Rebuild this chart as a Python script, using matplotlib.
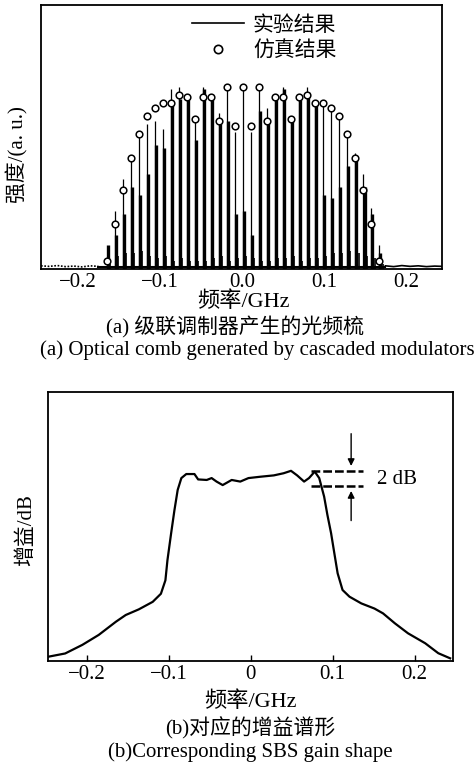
import matplotlib
matplotlib.use("Agg")
import matplotlib.pyplot as plt
from matplotlib.lines import Line2D

plt.rcParams['font.family'] = ['Liberation Serif', 'Noto Sans CJK SC']
plt.rcParams['axes.unicode_minus'] = True

# ---- (a) optical comb ----
comb_freq = [-0.165, -0.1552, -0.1454, -0.1357, -0.1259, -0.1161, -0.1063, -0.0965,
             -0.0868, -0.0770, -0.0672, -0.0574, -0.0476, -0.0379, -0.0281, -0.0183,
             -0.0085, 0.0013, 0.0111, 0.0209, 0.0306, 0.0404, 0.0502, 0.0600,
             0.0697, 0.0795, 0.0893, 0.0991, 0.1088, 0.1186, 0.1284, 0.1382,
             0.1480, 0.1577, 0.1675]
exp_peak = [0.00, 0.22, 0.34, 0.43, 0.51, 0.55, 0.56, 0.53, 0.68, 0.69, 0.64, 0.58,
            0.69, 0.65, 0.59, 0.68, 0.52, 0.69, 0.52, 0.69, 0.61, 0.65, 0.69, 0.58,
            0.65, 0.69, 0.64, 0.63, 0.62, 0.58, 0.51, 0.44, 0.36, 0.23, 0.09]
exp_body = [0.09, 0.13, 0.21, 0.31, 0.28, 0.36, 0.47, 0.46, 0.64, 0.645, 0.64, 0.49,
            0.68, 0.64, 0.55, 0.56, 0.21, 0.22, 0.13, 0.60, 0.57, 0.64, 0.68, 0.56,
            0.64, 0.67, 0.63, 0.28, 0.27, 0.31, 0.39, 0.42, 0.31, 0.21, 0.06]
exp_side = [0.02, 0.05, 0.06, 0.06, 0.07, 0.05, 0.04, 0.05, 0.03, 0.04, 0.03, 0.03,
            0.03, 0.04, 0.05, 0.03, 0.04, 0.05, 0.04, 0.03, 0.03, 0.04, 0.04, 0.05,
            0.03, 0.04, 0.04, 0.05, 0.06, 0.06, 0.07, 0.06, 0.05, 0.04, 0.02]
sim_val = [0.03, 0.17, 0.30, 0.42, 0.51, 0.58, 0.61, 0.63, 0.63, 0.66, 0.65, 0.57,
           0.65, 0.65, 0.56, 0.69, 0.54, 0.69, 0.54, 0.69, 0.56, 0.65, 0.65, 0.57,
           0.65, 0.66, 0.63, 0.63, 0.61, 0.58, 0.51, 0.42, 0.30, 0.17, 0.03]
floor_freq = [-0.245, -0.235, -0.225, -0.215, -0.205, -0.195, -0.185, -0.175,
              0.175, 0.185, 0.195, 0.205, 0.215, 0.225, 0.235, 0.244]
floor_val = [0.012, 0.010, 0.013, 0.009, 0.011, 0.008, 0.012, 0.010,
             0.012, 0.009, 0.013, 0.010, 0.012, 0.009, 0.011, 0.010]
xticks_a = [-0.2, -0.1, 0.0, 0.1, 0.2]

# ---- (b) SBS gain ----
gain_freq = [-0.2475, -0.227, -0.206, -0.186, -0.165, -0.153, -0.137, -0.120, -0.110,
             -0.1045, -0.102, -0.0975, -0.0935, -0.0895, -0.085, -0.079, -0.069,
             -0.0645, -0.054, -0.048, -0.042, -0.0345, -0.0235, -0.013, -0.003,
             0.0115, 0.028, 0.040, 0.049, 0.0565, 0.065, 0.071, 0.078, 0.0835,
             0.0895, 0.0935, 0.098, 0.102, 0.106, 0.112, 0.1205, 0.135, 0.151,
             0.1615, 0.176, 0.192, 0.213, 0.229, 0.2435]
gain_val = [0.016, 0.028, 0.060, 0.097, 0.146, 0.171, 0.192, 0.220, 0.250,
            0.300, 0.375, 0.475, 0.560, 0.636, 0.680, 0.695, 0.695,
            0.675, 0.673, 0.680, 0.667, 0.654, 0.673, 0.667, 0.680,
            0.685, 0.690, 0.698, 0.707, 0.690, 0.667, 0.680, 0.704, 0.680,
            0.611, 0.543, 0.475, 0.400, 0.326, 0.264, 0.239, 0.214, 0.195,
            0.177, 0.140, 0.103, 0.066, 0.029, 0.010]
xticks_b = [-0.2, -0.1, 0, 0.1, 0.2]
xticklabels_b = ['\u22120.2', '\u22120.1', '0', '0.1', '0.2']

W, H = 474, 770
fig = plt.figure(figsize=(W / 100, H / 100), dpi=100)

def px_axes(l, t, r, b):
    return fig.add_axes([l / W, 1 - b / H, (r - l) / W, (b - t) / H])

def px_text(x, y, s, **kw):
    fig.text(x / W, 1 - y / H, s, ha='center', va='center', **kw)

fs = 15

# top panel
ax1 = px_axes(41, 5, 442, 269)
ax1.plot(floor_freq[:8], floor_val[:8], color='k', lw=1.2, ls=(0, (1, 1)))
ax1.plot([-0.175, 0.175], [0.006, 0.006], color='k', lw=1.5)
ax1.plot(floor_freq[8:], floor_val[8:], color='k', lw=1.2)
for f, p, b, s in zip(comb_freq, exp_peak, exp_body, exp_side):
    ax1.vlines(f, 0, p, color='k', lw=0.9)
    ax1.vlines(f + 0.0015, 0, b, color='k', lw=2.4)
    ax1.vlines(f + 0.004, 0, s, color='k', lw=1.2)
ax1.plot(comb_freq, sim_val, ls='none', marker='o', ms=4.8, mfc='white',
         mec='k', mew=1.1)
ax1.set_xlim(-0.245, 0.244)
ax1.set_ylim(0, 1)
ax1.set_xticks(xticks_a)
ax1.set_xticklabels(['\u22120.2', '\u22120.1', '0.0', '0.1', '0.2'])
ax1.set_yticks([])
ax1.tick_params(axis='x', direction='in', length=0, labelsize=fs, pad=3)
for sp in ax1.spines.values():
    sp.set_linewidth(1.3)

handles = [Line2D([], [], color='k', lw=1.2),
           Line2D([], [], ls='none', marker='o', ms=6, mfc='white', mec='k', mew=1.2)]
ax1.legend(handles, ['实验结果', '仿真结果'], loc='upper left',
           bbox_to_anchor=(0.365, 0.975), frameon=False, fontsize=fs,
           handlelength=2.5, handletextpad=0.45, labelspacing=0.3,
           borderaxespad=0.0, borderpad=0.2)

px_text(17, 155, '强度/(a. u.)', rotation=90, fontsize=fs)
px_text(243, 302, '频率/GHz', fontsize=fs + 1)
px_text(235, 327, '(a) 级联调制器产生的光频梳', fontsize=fs)
px_text(257, 350, '(a) Optical comb generated by cascaded modulators', fontsize=fs)

# bottom panel
ax2 = px_axes(48, 392, 453, 661)
ax2.plot(gain_freq, gain_val, color='k', lw=1.6)
ax2.plot([0.0735, 0.1365], [0.707, 0.707], color='k', lw=1.8, ls=(0, (3.5, 1.2)))
ax2.plot([0.0735, 0.1365], [0.652, 0.652], color='k', lw=1.8, ls=(0, (3.5, 1.2)))
ax2.annotate('', xy=(0.1225, 0.725), xytext=(0.1225, 0.845),
             arrowprops=dict(arrowstyle='-|>', color='k', lw=1.0,
                             mutation_scale=10, shrinkA=0, shrinkB=0))
ax2.annotate('', xy=(0.1225, 0.632), xytext=(0.1225, 0.522),
             arrowprops=dict(arrowstyle='-|>', color='k', lw=1.0,
                             mutation_scale=10, shrinkA=0, shrinkB=0))
ax2.text(0.178, 0.675, '2 dB', ha='center', va='center', fontsize=fs)
ax2.set_xlim(-0.248, 0.247)
ax2.set_ylim(0, 1)
ax2.set_xticks(xticks_b)
ax2.set_xticklabels(xticklabels_b)
ax2.set_yticks([])
ax2.tick_params(axis='x', direction='in', length=4, width=1.0, labelsize=fs, pad=3)
for sp in ax2.spines.values():
    sp.set_linewidth(1.3)

px_text(26, 530, '增益/dB', rotation=90, fontsize=fs)
px_text(250, 702, '频率/GHz', fontsize=fs + 1)
px_text(250, 728, '(b)对应的增益谱形', fontsize=fs)
px_text(250, 752, '(b)Corresponding SBS gain shape', fontsize=fs)

fig.savefig('out.png', dpi=100)
